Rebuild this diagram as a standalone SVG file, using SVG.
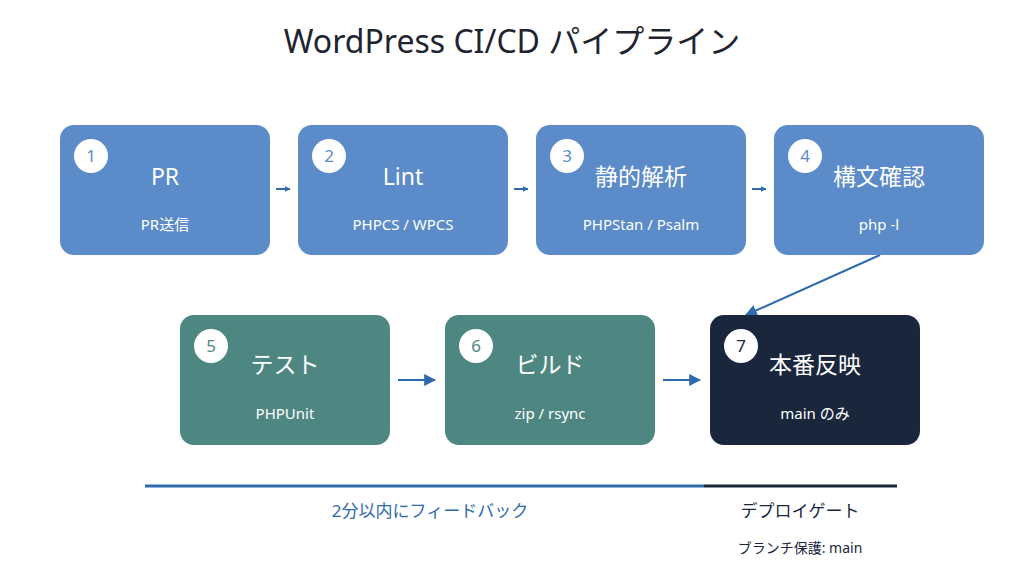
<svg xmlns="http://www.w3.org/2000/svg" width="1024" height="576" viewBox="0 0 1024 576">
<style>
text{font-family:"Noto Sans","Noto Sans CJK JP",sans-serif}
.t{fill:#fff;font-size:23px;text-anchor:middle}
.s{fill:#fff;font-size:15px;text-anchor:middle}
.n{font-size:17px;text-anchor:middle}
.b{fill:#5b8bc8}.g{fill:#4e8782}.d{fill:#19263b}
.c{stroke:#2e6bae;stroke-width:2;fill:none}
</style>
<defs><marker id="a" viewBox="0 0 10 10" refX="9" refY="5" markerWidth="6" markerHeight="6" orient="auto" markerUnits="userSpaceOnUse" ><path d="M0,0L10,5L0,10z" fill="#2e6bae"/></marker>
<marker id="a2" viewBox="0 0 10 10" refX="9" refY="5" markerWidth="12" markerHeight="12" orient="auto" markerUnits="userSpaceOnUse"><path d="M0,0L10,5L0,10z" fill="#2e6bae"/></marker></defs>
<rect width="1024" height="576" fill="#fff"/>
<text x="512" y="53" text-anchor="middle" font-size="32" fill="#1f2430">WordPress CI/CD パイプライン</text>
<g id="connectors">
<line class="c" x1="276" y1="189" x2="290" y2="189" stroke-width="3" marker-end="url(#a)"/>
<line class="c" x1="514" y1="189" x2="528" y2="189" stroke-width="3" marker-end="url(#a)"/>
<line class="c" x1="752" y1="189" x2="766" y2="189" stroke-width="3" marker-end="url(#a)"/>
<line class="c" x1="880" y1="255" x2="746" y2="315" stroke-width="1.5" marker-end="url(#a2)"/>
<line class="c" x1="398" y1="380" x2="435" y2="380" stroke-width="3" marker-end="url(#a2)"/>
<line class="c" x1="663" y1="380" x2="700" y2="380" stroke-width="3" marker-end="url(#a2)"/>
</g>
<g id="n1"><rect class="b" x="60" y="125" width="210" height="130" rx="14"/><circle cx="91" cy="156" r="17" fill="#fff"/><text class="n" x="91" y="162" fill="#5b8bc8">1</text><text class="t" x="165" y="185">PR</text><text class="s" x="165" y="230">PR送信</text></g>
<g id="n2"><rect class="b" x="298" y="125" width="210" height="130" rx="14"/><circle cx="329" cy="156" r="17" fill="#fff"/><text class="n" x="329" y="162" fill="#5b8bc8">2</text><text class="t" x="403" y="185">Lint</text><text class="s" x="403" y="230">PHPCS / WPCS</text></g>
<g id="n3"><rect class="b" x="536" y="125" width="210" height="130" rx="14"/><circle cx="567" cy="156" r="17" fill="#fff"/><text class="n" x="567" y="162" fill="#5b8bc8">3</text><text class="t" x="641" y="185">静的解析</text><text class="s" x="641" y="230">PHPStan / Psalm</text></g>
<g id="n4"><rect class="b" x="774" y="125" width="210" height="130" rx="14"/><circle cx="805" cy="156" r="17" fill="#fff"/><text class="n" x="805" y="162" fill="#5b8bc8">4</text><text class="t" x="879" y="185">構文確認</text><text class="s" x="879" y="230">php -l</text></g>
<g id="n5"><rect class="g" x="180" y="315" width="210" height="130" rx="14"/><circle cx="211" cy="346" r="17" fill="#fff"/><text class="n" x="211" y="352" fill="#4e8782">5</text><text class="t" x="285" y="373">テスト</text><text class="s" x="285" y="419">PHPUnit</text></g>
<g id="n6"><rect class="g" x="445" y="315" width="210" height="130" rx="14"/><circle cx="476" cy="346" r="17" fill="#fff"/><text class="n" x="476" y="352" fill="#4e8782">6</text><text class="t" x="550" y="373">ビルド</text><text class="s" x="550" y="419">zip / rsync</text></g>
<g id="n7"><rect class="d" x="710" y="315" width="210" height="130" rx="14"/><circle cx="741" cy="346" r="17" fill="#fff"/><text class="n" x="741" y="352" fill="#19263b">7</text><text class="t" x="815" y="373">本番反映</text><text class="s" x="815" y="419">main のみ</text></g>
<g id="legend">
<line x1="145" y1="486" x2="704" y2="486" stroke="#2e6bae" stroke-width="3"/>
<line x1="704" y1="486" x2="897" y2="486" stroke="#19263b" stroke-width="3"/>
<text x="430" y="517" text-anchor="middle" font-size="17" fill="#2e6bae">2分以内にフィードバック</text>
<text x="800" y="517" text-anchor="middle" font-size="17" fill="#19263b">デプロイゲート</text>
<text x="800" y="553" text-anchor="middle" font-size="14" fill="#19263b">ブランチ保護: main</text>
</g>
</svg>
